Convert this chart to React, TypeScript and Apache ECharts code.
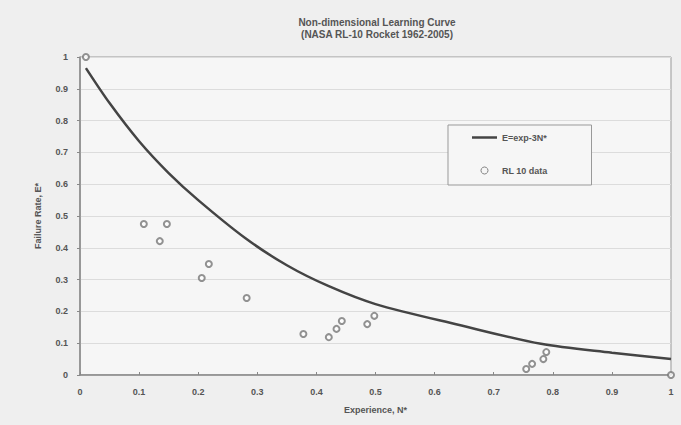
import React, { useEffect, useRef } from "react";
import * as echarts from "echarts";

const titleLines = ["Non-dimensional Learning Curve", "(NASA RL-10 Rocket 1962-2005)"];
const xAxisName = "Experience, N*";
const yAxisName = "Failure Rate, E*";
const lineName = "E=exp-3N*";
const scatterName = "RL 10 data";

// curve (N*, E*)
const curveN = [0.01, 0.05, 0.1, 0.15, 0.2, 0.28, 0.35, 0.42, 0.5, 0.64, 0.78, 0.9, 1.0];
const curveE = [0.965, 0.855, 0.735, 0.635, 0.55, 0.43, 0.345, 0.28, 0.223, 0.158, 0.098, 0.07, 0.05];

// RL-10 data points (N*, E*)
const dataN = [0.01, 0.108, 0.135, 0.147, 0.206, 0.218, 0.282, 0.378, 0.421, 0.434, 0.443, 0.486, 0.498, 0.755, 0.765, 0.784, 0.789, 1.0];
const dataE = [1.0, 0.475, 0.421, 0.475, 0.305, 0.349, 0.242, 0.129, 0.119, 0.145, 0.17, 0.16, 0.186, 0.019, 0.035, 0.05, 0.072, 0.0];

export default function App() {
  const ref = useRef<HTMLDivElement>(null);
  useEffect(() => {
    if (!ref.current) return;
    const chart = echarts.init(ref.current, null, { renderer: "svg" });
    const txt = "#555";
    const font = "Arial, 'Liberation Sans', sans-serif";
    chart.setOption({
      animation: false,
      backgroundColor: "#efefef",
      textStyle: { fontFamily: font },
      graphic: [
        {
          type: "text",
          x: 377,
          y: 16,
          style: {
            text: titleLines.join("\n"),
            textAlign: "center",
            fill: txt,
            font: `bold 10px ${font}`,
            lineHeight: 12,
          },
        },
      ],
      grid: {
        left: 80,
        right: 10,
        top: 57,
        bottom: 50,
        show: true,
        backgroundColor: "#f6f6f6",
        borderColor: "#999",
        borderWidth: 1,
      },
      legend: {
        orient: "vertical",
        left: 448,
        top: 125,
        padding: [8, 44, 10, 24],
        itemGap: 24,
        itemWidth: 25,
        itemHeight: 7,
        backgroundColor: "#f6f6f6",
        borderColor: "#999",
        borderWidth: 1,
        textStyle: { color: txt, fontSize: 9, fontWeight: "bold", fontFamily: font },
        data: [
          { name: lineName, icon: "path://M0,0H10V1H0Z", itemStyle: { color: "#444" } },
          { name: scatterName, icon: "circle", itemStyle: { color: "transparent", borderColor: "#666", borderWidth: 1 } },
        ],
      },
      xAxis: {
        type: "value",
        min: 0,
        max: 1,
        interval: 0.1,
        name: xAxisName,
        nameLocation: "middle",
        nameGap: 30,
        nameTextStyle: { color: txt, fontSize: 9, fontWeight: "bold" },
        axisLine: { show: true, lineStyle: { color: "#888", width: 1.5 } },
        axisTick: { show: true, inside: true, length: 3, lineStyle: { color: "#888" } },
        axisLabel: { color: txt, fontSize: 9, fontWeight: "bold", margin: 12, formatter: (v: number) => String(+v.toFixed(1)) },
        splitLine: { show: false },
      },
      yAxis: {
        type: "value",
        min: 0,
        max: 1,
        interval: 0.1,
        name: yAxisName,
        nameLocation: "middle",
        nameGap: 38,
        nameTextStyle: { color: txt, fontSize: 9, fontWeight: "bold" },
        axisLine: { show: true, lineStyle: { color: "#888", width: 1.5 } },
        axisTick: { show: true, length: 3, lineStyle: { color: "#888" } },
        axisLabel: { color: txt, fontSize: 9, fontWeight: "bold", margin: 12, formatter: (v: number) => String(+v.toFixed(1)) },
        splitLine: { show: true, lineStyle: { color: "#dcdcdc", width: 1 } },
      },
      series: [
        {
          name: lineName,
          type: "line",
          data: curveN.map((n, i) => [n, curveE[i]]),
          symbol: "none",
          smooth: 0.3,
          lineStyle: { color: "#444", width: 2.5 },
          itemStyle: { color: "#444" },
          z: 3,
        },
        {
          name: scatterName,
          type: "scatter",
          data: dataN.map((n, i) => [n, dataE[i]]),
          symbol: "emptyCircle",
          symbolSize: 6,
          itemStyle: { color: "#777", borderWidth: 1.1 },
          z: 4,
        },
      ],
    });
    return () => chart.dispose();
  }, []);
  return (
    <div
      ref={ref}
      style={{ position: "fixed", left: 0, top: 0, width: 681, height: 425 }}
    />
  );
}
